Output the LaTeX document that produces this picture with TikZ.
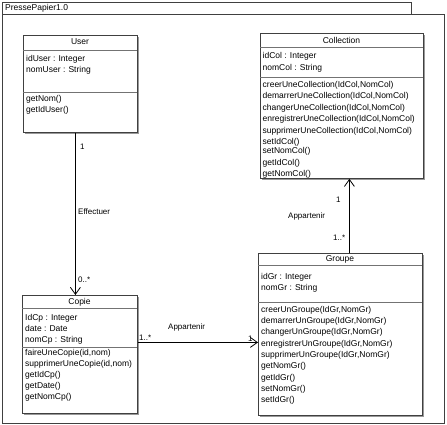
\documentclass[tikz,border=0pt]{standalone}
\usepackage{fontspec}
\setmainfont{Liberation Sans}
\usetikzlibrary{arrows.meta,shadows}

\tikzset{
  umlframe/.style={draw=black!75, fill=white, line width=0.8pt,
    drop shadow={shadow xshift=1.3pt, shadow yshift=-1.3pt, fill=black!40, opacity=1}},
  classbox/.style={umlframe, anchor=north west, inner sep=0pt},
  sepline/.style={draw=black!55, line width=0.8pt},
  classname/.style={inner sep=0pt, font=\fontsize{8.5}{10}\selectfont},
  members/.style={anchor=north west, inner sep=0pt, align=left},
  assoc/.style={draw=black, line width=0.8pt},
  navi/.style={-{Straight Barb[length=7pt,width=10pt]}},
  mult/.style={anchor=west, inner sep=0pt, font=\fontsize{8}{9}\selectfont}
}

\begin{document}
\begin{tikzpicture}[x=1pt,y=-1pt]
  \useasboundingbox (0,0) rectangle (447,425);
  % package frame
  \draw[umlframe] (2,14) rectangle (444,423);
  \draw[umlframe] (2,2) rectangle (411,14);
  \node[classname, anchor=west] (pkg) at (5,8) {PressePapier1.0};

  % User
  \node[classbox, minimum width=114pt, minimum height=97pt] (user) at (23,35) {};
  \draw[sepline] (23,50) -- (137,50);
  \draw[sepline] (23,92) -- (137,92);
  \node[classname] (user-name) at (80,42) {User};
  \node[members, font=\fontsize{8.5}{11}\selectfont] (user-attr) at (26,54.8)
    {idUser : Integer\\nomUser : String};
  \node[members, font=\fontsize{8.5}{11}\selectfont] (user-ops) at (26,94.8)
    {getNom()\\getIdUser()};

  % Collection
  \node[classbox, minimum width=163pt, minimum height=145pt] (collection) at (260,33) {};
  \draw[sepline] (260,47) -- (423,47);
  \draw[sepline] (260,77) -- (423,77);
  \node[classname] (collection-name) at (341.5,40) {Collection};
  \node[members, font=\fontsize{8.5}{11.6}\selectfont] (collection-attr) at (262.5,52.5)
    {idCol : Integer\\nomCol : String};
  \node[members, font=\fontsize{8.5}{11.5}\selectfont] (collection-ops) at (262.5,81)
    {creerUneCollection(IdCol,NomCol)\\
     demarrerUneCollection(IdCol,NomCol)\\
     changerUneCollection(IdCol,NomCol)\\
     enregistrerUneCollection(IdCol,NomCol)\\
     supprimerUneCollection(IdCol,NomCol)\\
     setIdCol()\\[-2.5pt]
     setNomCol()\\
     getIdCol()\\
     getNomCol()};

  % Copie
  \node[classbox, minimum width=115pt, minimum height=118pt] (copie) at (22,295) {};
  \draw[sepline] (22,308) -- (137,308);
  \draw[sepline] (22,347) -- (137,347);
  \node[classname] (copie-name) at (79.5,302) {Copie};
  \node[members, font=\fontsize{8.5}{11}\selectfont] (copie-attr) at (25,314.5)
    {IdCp : Integer\\date : Date\\nomCp : String};
  \node[members, font=\fontsize{8.5}{11}\selectfont] (copie-ops) at (25,349.5)
    {faireUneCopie(id,nom)\\
     supprimerUneCopie(id,nom)\\
     getIdCp()\\
     getDate()\\
     getNomCp()};

  % Groupe
  \node[classbox, minimum width=164pt, minimum height=162pt] (groupe) at (258,253) {};
  \draw[sepline] (258,265) -- (422,265);
  \draw[sepline] (258,302) -- (422,302);
  \node[classname] (groupe-name) at (340,259) {Groupe};
  \node[members, font=\fontsize{8.5}{11.5}\selectfont] (groupe-attr) at (261,272.9)
    {idGr : Integer\\nomGr : String};
  \node[members, font=\fontsize{8.5}{11.3}\selectfont] (groupe-ops) at (261,305.9)
    {creerUnGroupe(IdGr,NomGr)\\
     demarrerUnGroupe(IdGr,NomGr)\\
     changerUnGroupe(IdGr,NomGr)\\
     enregistrerUnGroupe(IdGr,NomGr)\\
     supprimerUnGroupe(IdGr,NomGr)\\
     getNomGr()\\
     getIdGr()\\
     setNomGr()\\
     setIdGr()};

  % associations
  \draw[assoc, navi] ([xshift=-5pt]user.south) -- ([xshift=-5pt]user.south |- copie.north);
  \draw[assoc, navi] ([yshift=12pt]copie.east) -- ([yshift=12pt]copie.east -| groupe.west);
  \draw[assoc, navi] ([xshift=9pt]groupe.north) -- ([xshift=9pt]groupe.north |- collection.south);

  % labels
  \node[mult] (m-user) at (80,147) {1};
  \node[mult] (l-effectuer) at (78,212) {Effectuer};
  \node[mult] (m-copie-top) at (78,280) {0..*};
  \node[mult] (m-copie-right) at (139,338) {1..*};
  \node[mult] (l-appartenir-h) at (168,327) {Appartenir};
  \node[mult] (m-groupe-left) at (248,339) {1};
  \node[mult] (m-collection) at (336,200) {1};
  \node[mult] (l-appartenir-v) at (288,216) {Appartenir};
  \node[mult] (m-groupe-top) at (333,238) {1..*};
\end{tikzpicture}
\end{document}
